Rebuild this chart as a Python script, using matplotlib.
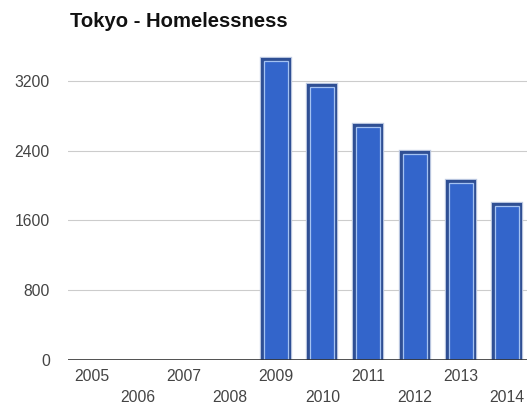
import matplotlib
matplotlib.use("Agg")
import matplotlib.pyplot as plt
import matplotlib.patheffects as pe
import numpy as np

# ── Data ─────────────────────────────────────────────────────────────────────
YEARS = ["2005", "2006", "2007", "2008", "2009",
         "2010", "2011", "2012", "2013", "2014"]
HOMELESS = [None, None, None, None, 3428, 3125, 2672, 2368, 2027, 1768]
Y_TICKS = [0, 800, 1600, 2400, 3200]

plt.rcParams["font.family"] = ["Liberation Sans", "DejaVu Sans"]

W, H = 527, 408
fig = plt.figure(figsize=(W / 100, H / 100), dpi=100)
fig.patch.set_facecolor("white")

# plot area in pixels: left 68, baseline at 360, top at 50, runs off the right edge
ax = fig.add_axes([68 / W, 1 - 360 / H, (W - 68) / W, (360 - 50) / H])
ax.set_facecolor("white")

x = np.arange(len(YEARS))
has = [v is not None for v in HOMELESS]
bx = x[has]
bv = [v for v in HOMELESS if v is not None]

bars = ax.bar(bx, bv, width=0.52, color="#3365cb", edgecolor="#a4c2f2",
              linewidth=0.9, zorder=3)
for b in bars:
    b.set_path_effects([
        pe.Stroke(linewidth=6.0, foreground="#bfcbe3"),
        pe.Stroke(linewidth=4.4, foreground="#2f4f94"),
        pe.Normal(),
    ])

ax.set_xlim(-0.52, 9.44)
ax.set_ylim(0, 3555)

# gridlines and baseline
for t in Y_TICKS[1:]:
    ax.axhline(t, color="#cccccc", linewidth=0.8, zorder=1)
ax.axhline(0, color="#333333", linewidth=1.2, zorder=4)

for s in ax.spines.values():
    s.set_visible(False)

ax.set_yticks(Y_TICKS)
ax.set_yticklabels([str(t) for t in Y_TICKS])
ax.tick_params(axis="y", length=0, pad=13, labelsize=11.3, labelcolor="#444444")

# staggered year labels: two rows
ax.set_xticks(x[::2])
ax.set_xticklabels(YEARS[::2])
ax.set_xticks(x[1::2], minor=True)
ax.set_xticklabels(YEARS[1::2], minor=True)
ax.tick_params(axis="x", which="major", length=0, pad=6.8,
               labelsize=11.3, labelcolor="#444444")
ax.tick_params(axis="x", which="minor", length=0, pad=21.5,
               labelsize=11.3, labelcolor="#444444")

fig.text(70 / W, 1 - 27 / H, "Tokyo - Homelessness", fontsize=14.6,
         fontweight="bold", color="#111111", ha="left", va="baseline")

fig.savefig("out.png", dpi=100)
